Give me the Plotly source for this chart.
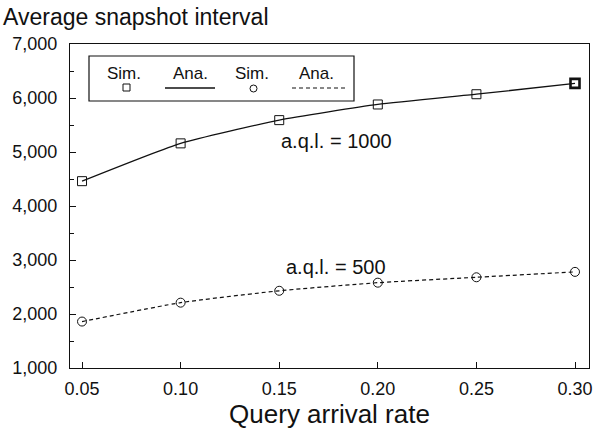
import plotly.graph_objects as go

# Query arrival rate (x) and average snapshot interval for two a.q.l. settings
arrival_rate = [0.05, 0.10, 0.15, 0.20, 0.25, 0.30]
interval_aql_1000 = [4460, 5160, 5590, 5880, 6070, 6270]
interval_aql_500 = [1860, 2210, 2430, 2580, 2680, 2780]
x_ticks = [0.05, 0.10, 0.15, 0.20, 0.25, 0.30]
x_tick_text = ["0.05", "0.10", "0.15", "0.20", "0.25", "0.30"]
y_ticks = [1000, 2000, 3000, 4000, 5000, 6000, 7000]
y_tick_text = ["1,000", "2,000", "3,000", "4,000", "5,000", "6,000", "7,000"]

FONT = "Liberation Sans, Arial, Helvetica, sans-serif"
INK = "#111111"

fig = go.Figure()

# a.q.l. = 1000: simulation squares joined by the analytic solid curve
fig.add_trace(go.Scatter(
    x=arrival_rate, y=interval_aql_1000, mode="lines+markers",
    line=dict(color=INK, width=1.3, shape="spline", smoothing=0.5),
    marker=dict(symbol="square-open", size=9, color=INK,
                line=dict(color=INK, width=[1, 1, 1, 1, 1, 2.6])),
    showlegend=False,
))

# a.q.l. = 500: simulation circles joined by the analytic dashed curve
fig.add_trace(go.Scatter(
    x=arrival_rate, y=interval_aql_500, mode="lines+markers",
    line=dict(color=INK, width=1.2, dash="4px,3px", shape="spline", smoothing=0.5),
    marker=dict(symbol="circle-open", size=9, color=INK, line=dict(color=INK, width=1)),
    showlegend=False,
))

# Curve labels
fig.add_annotation(x=0.179, y=5200, text="a.q.l. = 1000", showarrow=False,
                   xanchor="center", yanchor="middle",
                   font=dict(family=FONT, size=20, color=INK))
fig.add_annotation(x=0.179, y=2870, text="a.q.l. = 500", showarrow=False,
                   xanchor="center", yanchor="middle",
                   font=dict(family=FONT, size=20, color=INK))

# Key box: labels above their symbols
L, R, B, T = 70, 589, 368, 44
W, H = R - L, B - T


def px(xp):
    return (xp - L) / W


def py(yp):
    return (B - yp) / H


fig.add_shape(type="rect", xref="paper", yref="paper",
              x0=px(89), x1=px(354), y0=py(101), y1=py(56),
              line=dict(color=INK, width=1.2), fillcolor="white")
for cx, label in [(124, "Sim."), (190, "Ana."), (252, "Sim."), (316, "Ana.")]:
    fig.add_annotation(xref="paper", yref="paper", x=px(cx), y=py(74), text=label,
                       xanchor="center", yanchor="middle", showarrow=False,
                       font=dict(family=FONT, size=17, color=INK))
fig.add_shape(type="rect", xref="paper", yref="paper",
              x0=px(123), x1=px(130), y0=py(91), y1=py(84),
              line=dict(color=INK, width=1))
fig.add_shape(type="line", xref="paper", yref="paper",
              x0=px(165), x1=px(215), y0=py(88), y1=py(88),
              line=dict(color=INK, width=1.3))
fig.add_shape(type="circle", xref="paper", yref="paper",
              x0=px(250), x1=px(257), y0=py(92), y1=py(85),
              line=dict(color=INK, width=1))
fig.add_shape(type="line", xref="paper", yref="paper",
              x0=px(292), x1=px(345), y0=py(88), y1=py(88),
              line=dict(color=INK, width=1.2, dash="4px,3px"))

# Axis title placed at top-left as in the figure
fig.add_annotation(xref="paper", yref="paper", x=px(1), y=py(17),
                   xanchor="left", yanchor="middle",
                   text="Average snapshot interval", showarrow=False,
                   font=dict(family=FONT, size=23, color=INK))

fig.update_xaxes(
    range=[0.0439, 0.3071], tickvals=x_ticks, ticktext=x_tick_text,
    ticks="inside", ticklen=6, tickwidth=1, tickcolor=INK,
    showline=True, linecolor=INK, linewidth=1.3, mirror=True,
    showgrid=False, zeroline=False, ticklabelstandoff=4, automargin=False,
    tickfont=dict(family=FONT, size=18, color=INK),
    title=dict(text="Query arrival rate", font=dict(family=FONT, size=26, color=INK), standoff=2),
)
fig.update_yaxes(
    range=[1000, 7000], tickvals=y_ticks, ticktext=y_tick_text,
    ticks="inside", ticklen=6, tickwidth=1, tickcolor=INK,
    minor=dict(dtick=500, ticks="inside", ticklen=4, tickcolor=INK, showgrid=False),
    showline=True, linecolor=INK, linewidth=1.3, mirror=True,
    showgrid=False, zeroline=False, ticklabelstandoff=8, automargin=False,
    tickfont=dict(family=FONT, size=18, color=INK),
)

fig.update_layout(
    width=593, height=429,
    margin=dict(l=L, r=593 - R, t=T, b=429 - B),
    plot_bgcolor="white", paper_bgcolor="white",
    font=dict(family=FONT, color=INK),
)

fig.write_html("out.html")
